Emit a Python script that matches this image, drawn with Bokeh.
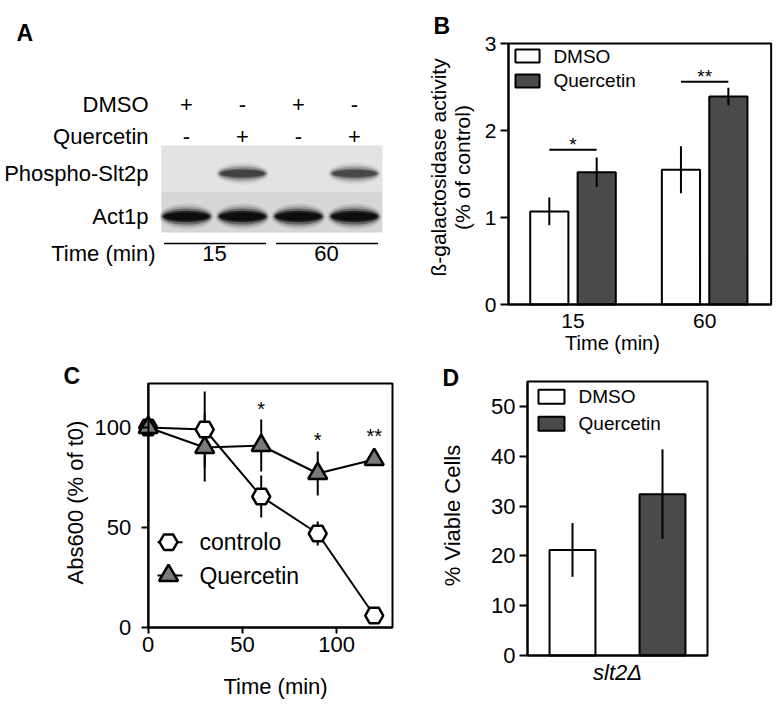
import numpy as np
from bokeh.plotting import figure
from bokeh.models import Range1d, FixedTicker, LinearAxis
from bokeh.core.properties import value
from bokeh.embed import file_html
from bokeh.resources import INLINE

FONT = "Liberation Sans"
DARK = "#4a4a4a"
TRI = "#7a7a7a"

# ---------------- Panel A: western blot ----------------
lanes = [1, 2, 3, 4]
dmso_sign = ["+", "-", "+", "-"]
querc_sign = ["-", "+", "-", "+"]
phospho_level = [0.0, 1.0, 0.0, 0.9]
act1_level = [0.95, 1.0, 1.0, 1.0]
time_groups = ["15", "60"]
time_lanes = [[1, 2], [3, 4]]
row_labels = ["DMSO", "Quercetin", "Phospho-Slt2p", "Act1p"]

# ---------------- Panel B ----------------
b_times = ["15", "60"]
b_dmso = [1.07, 1.55]
b_dmso_err = [0.16, 0.27]
b_querc = [1.52, 2.39]
b_querc_err = [0.17, 0.10]
b_sig_level = [1.78, 2.56]
b_sig_text = ["*", "**"]
b_yticks = [0, 1, 2, 3]

# ---------------- Panel C ----------------
c_time = [0, 30, 60, 90, 120]
c_ctrl = [100, 99, 65.5, 47, 6]
c_ctrl_err = [0, 19, 10.5, 6, 0]
c_querc = [100, 90, 91, 77, 84]
c_querc_err = [0, 17, 13, 11, 0]
c_sig_time = [60, 90, 120]
c_sig_pos = [110.5, 95, 97]
c_sig_text = ["*", "*", "**"]
c_ticks = [0, 50, 100]

# ---------------- Panel D ----------------
d_group = ["slt2\u0394"]
d_dmso = [21.2]
d_dmso_err = [5.4]
d_querc = [32.4]
d_querc_err = [9.0]
d_yticks = [0, 10, 20, 30, 40, 50]

legend_labels = ["DMSO", "Quercetin"]
c_legend_labels = ["controlo", "Quercetin"]

# ======================= canvas =======================
W, H = 779, 705
p = figure(width=W, height=H, x_range=Range1d(0, W), y_range=Range1d(H, 0),
           x_axis_location=None, y_axis_location=None, min_border=0, outline_line_color=None,
           toolbar_location=None, output_backend="svg")
p.xgrid.visible = False
p.ygrid.visible = False
p.background_fill_color = "white"
p.border_fill_color = "white"

xr, yr = {}, {}
def panel(name, px0, ppu_x, py0=None, ppu_y=None):
    """Register a panel's own data ranges (origin in page px, px per data unit)."""
    xr[name + "x"] = Range1d(-px0 / ppu_x, (W - px0) / ppu_x)
    if py0 is not None:
        yr[name + "y"] = Range1d((py0 - H) / ppu_y, py0 / ppu_y)

panel("A", 130.0, 56.0)
panel("B", 572.5, 131.66, 304.0, 87.0)
panel("C", 147.7, 1.8836, 627.0, 2.0)
panel("D", 617.0, 90.0, 655.0, 4.98)
p.extra_x_ranges = xr
p.extra_y_ranges = yr

TXT = dict(text_font=value(FONT), text_color="black")
RB = dict(x_range_name="Bx", y_range_name="By")
RC = dict(x_range_name="Cx", y_range_name="Cy")
RD = dict(x_range_name="Dx", y_range_name="Dy")


def make_axis(names, side, loc, bounds, ticks, tick_out, standoff, size, overrides=None, italic=False):
    ax = LinearAxis(x_range_name=names["x_range_name"], y_range_name=names["y_range_name"],
                    fixed_location=loc, bounds=bounds, ticker=FixedTicker(ticks=ticks),
                    axis_line_width=2, axis_line_color="black",
                    major_tick_line_width=2, major_tick_line_color="black",
                    major_tick_in=0, major_tick_out=tick_out, minor_tick_line_color=None,
                    major_label_text_font=FONT, major_label_text_font_size=size,
                    major_label_text_color="black", major_label_standoff=standoff)
    if overrides:
        ax.major_label_overrides = overrides
    if italic:
        ax.major_label_text_font_style = "italic"
    p.add_layout(ax, side)
    return ax


# panel letters (page coordinates)
p.text(x=[16, 433, 63, 442], y=[32, 25, 375, 377], text=["A", "B", "C", "D"], text_baseline="alphabetic",
       text_font_size="23px", text_font_style="bold", **TXT)

# ======================= Panel A =======================
Y_DMSO, Y_Q, Y_PH, Y_ACT, Y_TIME = 104, 136, 173, 216, 253
p.text(x=[148] * 4, y=[Y_DMSO, Y_Q, Y_PH, Y_ACT], text=row_labels, text_align="right",
       text_baseline="middle", text_font_size="22px", **TXT)
p.text(x=lanes, y=[Y_DMSO] * 4, text=dmso_sign, text_align="center", text_baseline="middle",
       text_font_size="22px", x_range_name="Ax", **TXT)
p.text(x=lanes, y=[Y_Q] * 4, text=querc_sign, text_align="center", text_baseline="middle",
       text_font_size="22px", x_range_name="Ax", **TXT)

blot_l = lanes[0] - 0.45
blot_r = lanes[-1] + 0.5
p.quad(left=[blot_l], right=[blot_r], top=[145], bottom=[191], fill_color="#e3e3e3", line_color=None, x_range_name="Ax")
p.quad(left=[blot_l], right=[blot_r], top=[191], bottom=[232], fill_color="#d6d6d6", line_color=None, x_range_name="Ax")
for w, h, a in [(0.95, 22, 0.08), (0.91, 18, 0.15), (0.87, 14, 0.3), (0.83, 10, 0.55), (0.78, 7, 0.8)]:
    p.ellipse(x=lanes, y=[Y_PH] * 4, width=w, height=h, fill_color="#3a3a3a",
              fill_alpha=[a * v for v in phospho_level], line_color=None, x_range_name="Ax")
    p.ellipse(x=lanes, y=[Y_ACT] * 4, width=w * 1.02, height=h * 1.15, fill_color="#0d0d0d",
              fill_alpha=[min(1.0, 1.3 * a * v) for v in act1_level], line_color=None, x_range_name="Ax")

p.segment(x0=[g[0] - 0.4 for g in time_lanes], x1=[g[1] + 0.42 for g in time_lanes],
          y0=[243, 243], y1=[243, 243], line_color="black", line_width=1.5, x_range_name="Ax")
p.text(x=[np.mean(g) for g in time_lanes], y=[Y_TIME] * 2, text=time_groups, text_align="center",
       text_baseline="middle", text_font_size="22px", x_range_name="Ax", **TXT)
p.text(x=[155], y=[Y_TIME], text=["Time (min)"], text_align="right", text_baseline="middle",
       text_font_size="22px", **TXT)

# ======================= Panel B =======================
B_X0, B_X1, B_Y1 = -0.49, 1.505, 3
xb = np.arange(len(b_times))
off, bw = 0.18, 0.29
p.vbar(x=xb - off, top=b_dmso, width=bw, fill_color="white", line_color="black", line_width=2, **RB)
p.vbar(x=xb + off, top=b_querc, width=bw, fill_color=DARK, line_color="black", line_width=2, **RB)
p.segment(x0=xb - off, x1=xb - off, y0=np.array(b_dmso) - b_dmso_err, y1=np.array(b_dmso) + b_dmso_err,
          line_color="black", line_width=2, **RB)
p.segment(x0=xb + off, x1=xb + off, y0=np.array(b_querc) - b_querc_err, y1=np.array(b_querc) + b_querc_err,
          line_color="black", line_width=2, **RB)
p.segment(x0=xb - off, x1=xb + off, y0=b_sig_level, y1=b_sig_level, line_color="black", line_width=2, **RB)
p.text(x=xb, y=b_sig_level, text=b_sig_text, text_align="center", text_baseline="alphabetic", y_offset=-5,
       text_font_size="19px", **RB, **TXT)
p.quad(left=[-0.437] * 2, right=[-0.254] * 2, top=[2.931, 2.644], bottom=[2.782, 2.494],
       fill_color=["white", DARK], line_color="black", line_width=2, **RB)
p.text(x=[-0.149] * 2, y=[2.856, 2.569], text=legend_labels, text_baseline="middle",
       text_font_size="19px", **RB, **TXT)
p.quad(left=[B_X0], right=[B_X1], bottom=[0], top=[B_Y1], fill_color=None, line_color="black", line_width=2, **RB)
make_axis(RB, "left", B_X0, (0, B_Y1), b_yticks, 8, 4, "21px")
make_axis(RB, "below", 0, (B_X0, B_X1), list(xb), 0, 9, "21px",
          overrides={int(i): t for i, t in zip(xb, b_times)})
p.text(x=[0.30], y=[-0.437], text=["Time (min)"], text_align="center", text_baseline="middle",
       text_font_size="20px", **RB, **TXT)
p.text(x=[-1.023, -0.840], y=[1.575, 1.575], text=["\u00df-galactosidase activity", "(% of control)"],
       angle=np.pi / 2, text_align="center", text_baseline="middle", text_font_size="21px", **RB, **TXT)

# ======================= Panel C =======================
C_X1, C_Y1 = 129.7, 122
ce = np.array(c_ctrl_err); qe = np.array(c_querc_err)
p.quad(left=[0], right=[C_X1], bottom=[0], top=[C_Y1], fill_color=None, line_color="black", line_width=2, **RC)
p.segment(x0=c_time, x1=c_time, y0=np.array(c_ctrl) - ce, y1=np.array(c_ctrl) + ce, line_color="black", line_width=2, **RC)
p.segment(x0=c_time, x1=c_time, y0=np.array(c_querc) - qe, y1=np.array(c_querc) + qe, line_color="black", line_width=2, **RC)
p.line(c_time, c_ctrl, line_color="black", line_width=2, **RC)
p.line(c_time, c_querc, line_color="black", line_width=2, **RC)
p.scatter(c_time, c_ctrl, marker="hex", size=18, fill_color="white", line_color="black", line_width=2.5, **RC)
p.scatter(c_time, c_querc, marker="triangle", size=19, fill_color=TRI, line_color="black", line_width=2.5, **RC)
p.text(x=c_sig_time, y=c_sig_pos, text=c_sig_text, text_align="center", text_baseline="alphabetic",
       y_offset=2, text_font_size="20px", **RC, **TXT)
p.segment(x0=[4.94] * 2, x1=[18.2] * 2, y0=[42.65, 26.0], y1=[42.65, 26.0], line_color="black", line_width=2, **RC)
p.scatter([10.8], [42.65], marker="hex", size=18, fill_color="white", line_color="black", line_width=2.5, **RC)
p.scatter([10.8], [26.0], marker="triangle", size=19, fill_color=TRI, line_color="black", line_width=2.5, **RC)
p.text(x=[27.2] * 2, y=[42.65, 26.0], text=c_legend_labels, text_baseline="middle",
       text_font_size="23px", **RC, **TXT)
make_axis(RC, "left", 0, (0, C_Y1), c_ticks, 7, 10, "22px")
make_axis(RC, "below", 0, (0, C_X1), c_ticks, 6, 3, "22px")
p.text(x=[67.6], y=[-29.25], text=["Time (min)"], text_align="center", text_baseline="middle",
       text_font_size="22px", **RC, **TXT)
p.text(x=[-38.6], y=[62.5], text=["Abs600 (% of t0)"], angle=np.pi / 2, text_align="center",
       text_baseline="middle", text_font_size="22px", **RC, **TXT)

# ======================= Panel D =======================
D_X0, D_X1, D_Y1 = -1.0, 1.0, 55
xd = np.arange(len(d_group))
doff, dw = 0.5, 0.51
p.vbar(x=xd - doff, top=d_dmso, width=dw, fill_color="white", line_color="black", line_width=2, **RD)
p.vbar(x=xd + doff, top=d_querc, width=dw, fill_color=DARK, line_color="black", line_width=2, **RD)
p.segment(x0=xd - doff, x1=xd - doff, y0=np.array(d_dmso) - d_dmso_err, y1=np.array(d_dmso) + d_dmso_err,
          line_color="black", line_width=2, **RD)
p.segment(x0=xd + doff, x1=xd + doff, y0=np.array(d_querc) - d_querc_err, y1=np.array(d_querc) + d_querc_err,
          line_color="black", line_width=2, **RD)
p.quad(left=[-0.878] * 2, right=[-0.589] * 2, top=[53.34, 47.92], bottom=[50.53, 45.12],
       fill_color=["white", DARK], line_color="black", line_width=2, **RD)
p.text(x=[-0.433] * 2, y=[51.94, 46.52], text=legend_labels, text_baseline="middle",
       text_font_size="19px", **RD, **TXT)
p.quad(left=[D_X0], right=[D_X1], bottom=[0], top=[D_Y1], fill_color=None, line_color="black", line_width=2, **RD)
make_axis(RD, "left", D_X0, (0, D_Y1), d_yticks, 8, 4, "22px")
make_axis(RD, "below", 0, (D_X0, D_X1), list(xd), 0, 4, "22px",
          overrides={int(i): t for i, t in zip(xd, d_group)}, italic=True)
p.text(x=[-1.833], y=[28.1], text=["% Viable Cells"], angle=np.pi / 2, text_align="center",
       text_baseline="middle", text_font_size="22px", **RD, **TXT)

open("out.html", "w").write(file_html(p, INLINE, "Figure"))
